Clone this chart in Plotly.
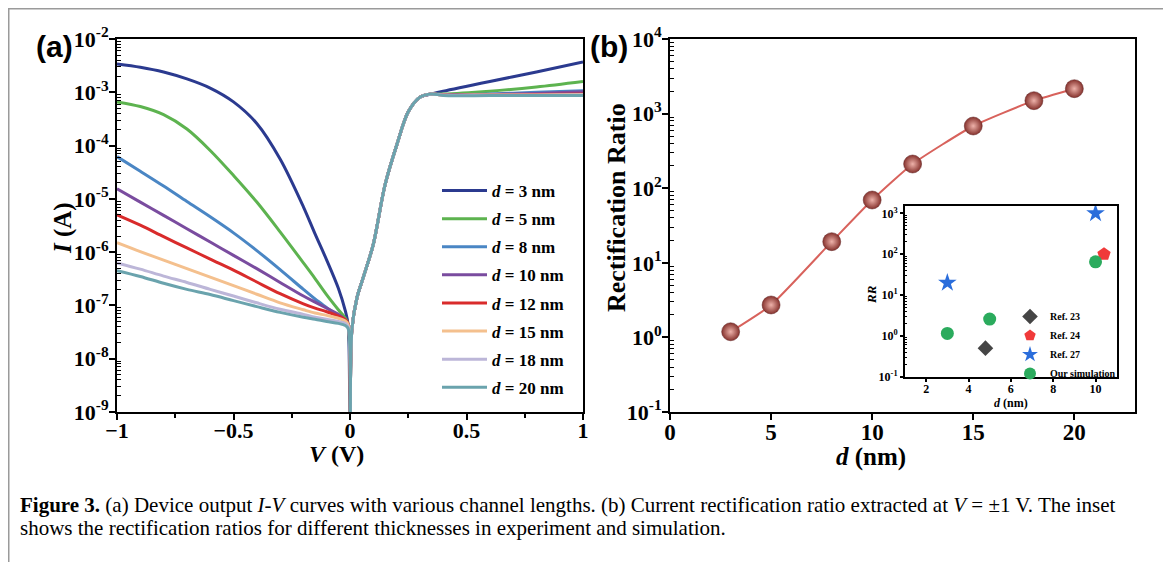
import plotly.graph_objects as go

W, H = 1171, 562
OFF = 8  # page body margin
def px(x): return (x - OFF) / W
def py(y): return 1 - (y - OFF) / H

SERIF = "Liberation Serif"

# ---------------- Panel (a): I-V curves ----------------
d_labels = ["3", "5", "8", "10", "12", "15", "18", "20"]
colors = ["#2b3a8f", "#5db34f", "#4a86c4", "#7a4c9f", "#d92b2b", "#f4c08e", "#bcb6d8", "#6aa3ad"]

V_neg = [-1.0, -0.9, -0.8, -0.7, -0.6, -0.5, -0.4, -0.3, -0.2, -0.15, -0.1, -0.05, -0.02, -0.008, 0.0]
I_neg_d3  = [3.4e-3, 2.95e-3, 2.4e-3, 1.78e-3, 1.2e-3, 6.6e-4, 2.6e-4, 5.6e-5, 7.1e-6, 2.2e-6, 7.1e-7, 2.1e-7, 7.9e-8, 4.3e-8, 1e-10]
I_neg_d5  = [6.6e-4, 5.4e-4, 3.8e-4, 2.04e-4, 8.1e-5, 2.75e-5, 8.7e-6, 2.4e-6, 6.3e-7, 3.2e-7, 1.58e-7, 8.3e-8, 5.75e-8, 4.4e-8, 1e-10]
I_neg_d8  = [6.2e-5, 3.3e-5, 1.74e-5, 8.9e-6, 4.6e-6, 2.3e-6, 1.07e-6, 4.7e-7, 2.0e-7, 1.32e-7, 9.1e-8, 6.3e-8, 4.9e-8, 4.2e-8, 1e-10]
I_neg_d10 = [1.55e-5, 8.7e-6, 4.9e-6, 2.75e-6, 1.55e-6, 8.7e-7, 4.9e-7, 2.7e-7, 1.5e-7, 1.15e-7, 8.9e-8, 6.8e-8, 5.3e-8, 4.3e-8, 1e-10]
I_neg_d12 = [5.0e-6, 3.2e-6, 1.95e-6, 1.2e-6, 7.4e-7, 4.6e-7, 2.75e-7, 1.66e-7, 1.07e-7, 8.9e-8, 7.6e-8, 6.3e-8, 5.4e-8, 4.5e-8, 1e-10]
I_neg_d15 = [1.5e-6, 1.02e-6, 7.1e-7, 4.9e-7, 3.4e-7, 2.35e-7, 1.62e-7, 1.12e-7, 8.3e-8, 7.2e-8, 6.5e-8, 5.75e-8, 5.1e-8, 4.4e-8, 1e-10]
I_neg_d18 = [6.3e-7, 4.8e-7, 3.55e-7, 2.7e-7, 2.0e-7, 1.5e-7, 1.12e-7, 8.5e-8, 6.8e-8, 6.0e-8, 5.5e-8, 5.0e-8, 4.6e-8, 4.0e-8, 1e-10]
I_neg_d20 = [4.5e-7, 3.5e-7, 2.6e-7, 2.0e-7, 1.6e-7, 1.23e-7, 9.5e-8, 7.4e-8, 6.0e-8, 5.5e-8, 5.0e-8, 4.6e-8, 4.2e-8, 3.7e-8, 1e-10]

V_pos_shared = [0.008, 0.03, 0.06, 0.1, 0.15, 0.2, 0.25, 0.3, 0.35]
I_pos_shared = [3.5e-8, 1.4e-7, 3.7e-7, 1.4e-6, 1.8e-5, 1.0e-4, 4.3e-4, 8.1e-4, 9.3e-4]

V_pos_tail = [0.4, 0.6, 0.8, 1.0]
I_tail_d3  = [1.05e-3, 1.6e-3, 2.4e-3, 3.7e-3]
I_tail_d5  = [9.3e-4, 1.05e-3, 1.26e-3, 1.6e-3]
I_tail_d8  = [9.0e-4, 9.3e-4, 1.0e-3, 1.07e-3]
I_tail_d10 = [9.0e-4, 9.1e-4, 9.5e-4, 1.02e-3]
I_tail_d12 = [8.9e-4, 8.9e-4, 9.1e-4, 9.3e-4]
I_tail_d15 = [8.9e-4, 8.9e-4, 8.9e-4, 9.1e-4]
I_tail_d18 = [8.8e-4, 8.8e-4, 8.8e-4, 8.9e-4]
I_tail_d20 = [8.7e-4, 8.7e-4, 8.7e-4, 8.7e-4]

I_neg_all = [I_neg_d3, I_neg_d5, I_neg_d8, I_neg_d10, I_neg_d12, I_neg_d15, I_neg_d18, I_neg_d20]
I_tail_all = [I_tail_d3, I_tail_d5, I_tail_d8, I_tail_d10, I_tail_d12, I_tail_d15, I_tail_d18, I_tail_d20]

# ---------------- Panel (b): rectification ratio ----------------
d_nm = [3, 5, 8, 10, 12, 15, 18, 20]
RR = [1.19, 2.72, 19.2, 69.5, 211, 682, 1490, 2158]

# Inset
ref23_d, ref23_rr = [4.8], [0.5]
ref24_d, ref24_rr = [10.4], [100]
ref27_d, ref27_rr = [3, 10], [20, 1000]
sim_d, sim_rr = [3, 5, 10], [1.15, 2.57, 65]

fig = go.Figure()

for k in range(len(d_labels)):
    xs = V_neg + V_pos_shared + V_pos_tail
    ys = I_neg_all[k] + I_pos_shared + I_tail_all[k]
    fig.add_trace(go.Scatter(
        x=xs, y=ys, mode="lines", line=dict(color=colors[k], width=3, shape="spline", smoothing=0.9),
        name=f"<i>d</i> = {d_labels[k]} nm", legendgroup=f"g{k}", legend="legend",
        xaxis="x", yaxis="y"))

fig.add_trace(go.Scatter(
    x=d_nm, y=RR, mode="lines+markers",
    line=dict(color="#d8625c", width=2, shape="spline", smoothing=0.5),
    marker=dict(size=18, color="#86322d", gradient=dict(type="radial", color="#eeb2aa"),
                line=dict(width=0.5, color="#5e2020")),
    showlegend=False, xaxis="x2", yaxis="y2"))

inset_sets = [
    (ref23_d, ref23_rr, "Ref. 23", "diamond", "#454545", 12),
    (ref24_d, ref24_rr, "Ref. 24", "pentagon", "#f03a3a", 14),
    (ref27_d, ref27_rr, "Ref. 27", "star", "#2a6ddb", 14),
    (sim_d, sim_rr, "Our simulation", "circle", "#2bab5d", 13),
]
for xs, ys, nm, sym, col, sz in inset_sets:
    fig.add_trace(go.Scatter(
        x=xs, y=ys, mode="markers", name=nm,
        marker=dict(symbol=sym, color=col, size=sz, line=dict(width=0)),
        legend="legend2", xaxis="x3", yaxis="y3"))

def logticks(lo, hi):
    vals = [10.0 ** k for k in range(lo, hi + 1)]
    txt = [f"<b>10<sup>{k}</sup></b>" for k in range(lo, hi + 1)]
    return vals, txt

def minor_log(lo, hi):
    return [m * 10.0 ** k for k in range(lo, hi) for m in range(2, 10)]

axcommon = dict(showline=True, linecolor="black", linewidth=2, mirror=True, automargin=False,
                showgrid=False, zeroline=False, ticks="outside", tickcolor="black")

yv, yt = logticks(-9, -2)
yv2, yt2 = logticks(-1, 4)
yv3, yt3 = logticks(-1, 3)

fig.update_layout(
    template="none",
    width=W, height=H, margin=dict(l=0, r=0, t=0, b=0, pad=0, autoexpand=False),
    paper_bgcolor="white", plot_bgcolor="white",
    font=dict(family=SERIF, color="black"),
    xaxis=dict(domain=[px(117), px(583)], range=[-1, 1], anchor="y",
               tickmode="linear", tick0=-1, dtick=0.5, ticklen=6, tickwidth=2, ticklabelstandoff=-8,
               minor=dict(dtick=0.25, ticks="outside", ticklen=4, tickwidth=1.5, tickcolor="black"),
               tickfont=dict(family=SERIF, size=22, weight="bold"), **axcommon),
    yaxis=dict(domain=[py(412), py(39)], type="log", range=[-9, -2], anchor="x",
               tickmode="array", tickvals=yv, ticktext=yt, ticklen=6, tickwidth=2, ticklabelstandoff=-4,
               minor=dict(tickmode="array", tickvals=minor_log(-9, -2), ticks="inside",
                          ticklen=4, tickwidth=1, tickcolor="black"),
               tickfont=dict(family=SERIF, size=22), **axcommon),
    xaxis2=dict(domain=[px(670), px(1135)], range=[0, 23], anchor="y2",
                tickmode="linear", tick0=0, dtick=5, ticklen=6, tickwidth=2, ticklabelstandoff=-8,
                tickfont=dict(family=SERIF, size=23, weight="bold"), **axcommon),
    yaxis2=dict(domain=[py(412), py(39)], type="log", range=[-1, 4], anchor="x2",
                tickmode="array", tickvals=yv2, ticktext=yt2, ticklen=6, tickwidth=2, ticklabelstandoff=-4,
                minor=dict(tickmode="array", tickvals=minor_log(-1, 4), ticks="inside",
                           ticklen=4, tickwidth=1, tickcolor="black"),
                tickfont=dict(family=SERIF, size=22), **axcommon),
    xaxis3=dict(domain=[px(905), px(1116.7)], range=[1, 11], anchor="y3",
                tickmode="linear", tick0=2, dtick=2, ticklen=3, tickwidth=1.5, ticklabelstandoff=-3,
                tickfont=dict(family=SERIF, size=12, weight="bold"), **axcommon),
    yaxis3=dict(domain=[py(376.7), py(206)], type="log", range=[-1, 3.18], anchor="x3",
                tickmode="array", tickvals=yv3, ticktext=yt3, ticklen=3, tickwidth=1.5,
                minor=dict(tickmode="array", tickvals=minor_log(-1, 3), ticks="inside",
                           ticklen=2, tickwidth=0.8, tickcolor="black"),
                tickfont=dict(family=SERIF, size=12), **axcommon),
    legend=dict(x=px(437), y=py(173), xanchor="left", yanchor="top", itemwidth=45,
                bgcolor="rgba(0,0,0,0)", borderwidth=0, tracegroupgap=3,
                font=dict(family=SERIF, size=17, color="black", weight="bold")),
    legend2=dict(x=px(1010), y=py(302), xanchor="left", yanchor="top", itemsizing="constant",
                 bgcolor="rgba(0,0,0,0)", borderwidth=0, tracegroupgap=0,
                 font=dict(family=SERIF, size=10, color="black", weight="bold")),
)

ann = []
def add_text(x, y, text, size, family=SERIF, angle=0, xanchor="center", yanchor="middle"):
    ann.append(dict(x=px(x), y=py(y), xref="paper", yref="paper", text=text, showarrow=False,
                    textangle=angle, xanchor=xanchor, yanchor=yanchor,
                    font=dict(family=family, size=size, color="black")))

add_text(34, 47, "<b>(a)</b>", 30, family="Liberation Sans", xanchor="left")
add_text(588, 47, "<b>(b)</b>", 30, family="Liberation Sans", xanchor="left")
add_text(63, 228, "<b><i>I</i> (A)</b>", 25, angle=-90)
add_text(336, 454, "<b><i>V</i> (V)</b>", 24)
add_text(617, 208, "<b>Rectification Ratio</b>", 26, angle=-90)
add_text(871, 457, "<b><i>d</i> (nm)</b>", 25)
add_text(871, 295, "<b><i>RR</i></b>", 13, angle=-90)
add_text(1011, 403, "<b><i>d</i> (nm)</b>", 12)
add_text(18, 505, "<b>Figure 3.</b> (a) Device output <i>I</i>-<i>V</i> curves with various channel lengths. "
         "(b) Current rectification ratio extracted at <i>V</i> = ±1 V. The inset", 21, xanchor="left")
add_text(18, 528, "shows the rectification ratios for different thicknesses in experiment and simulation.",
         21, xanchor="left")
fig.update_layout(annotations=ann)

fig.add_shape(type="rect", xref="paper", yref="paper", x0=px(8.75), x1=px(1165), y0=-0.05, y1=py(8.75),
              line=dict(color="#9a9a9a", width=1.5), fillcolor="rgba(0,0,0,0)", layer="below")

fig.write_html("out.html")
